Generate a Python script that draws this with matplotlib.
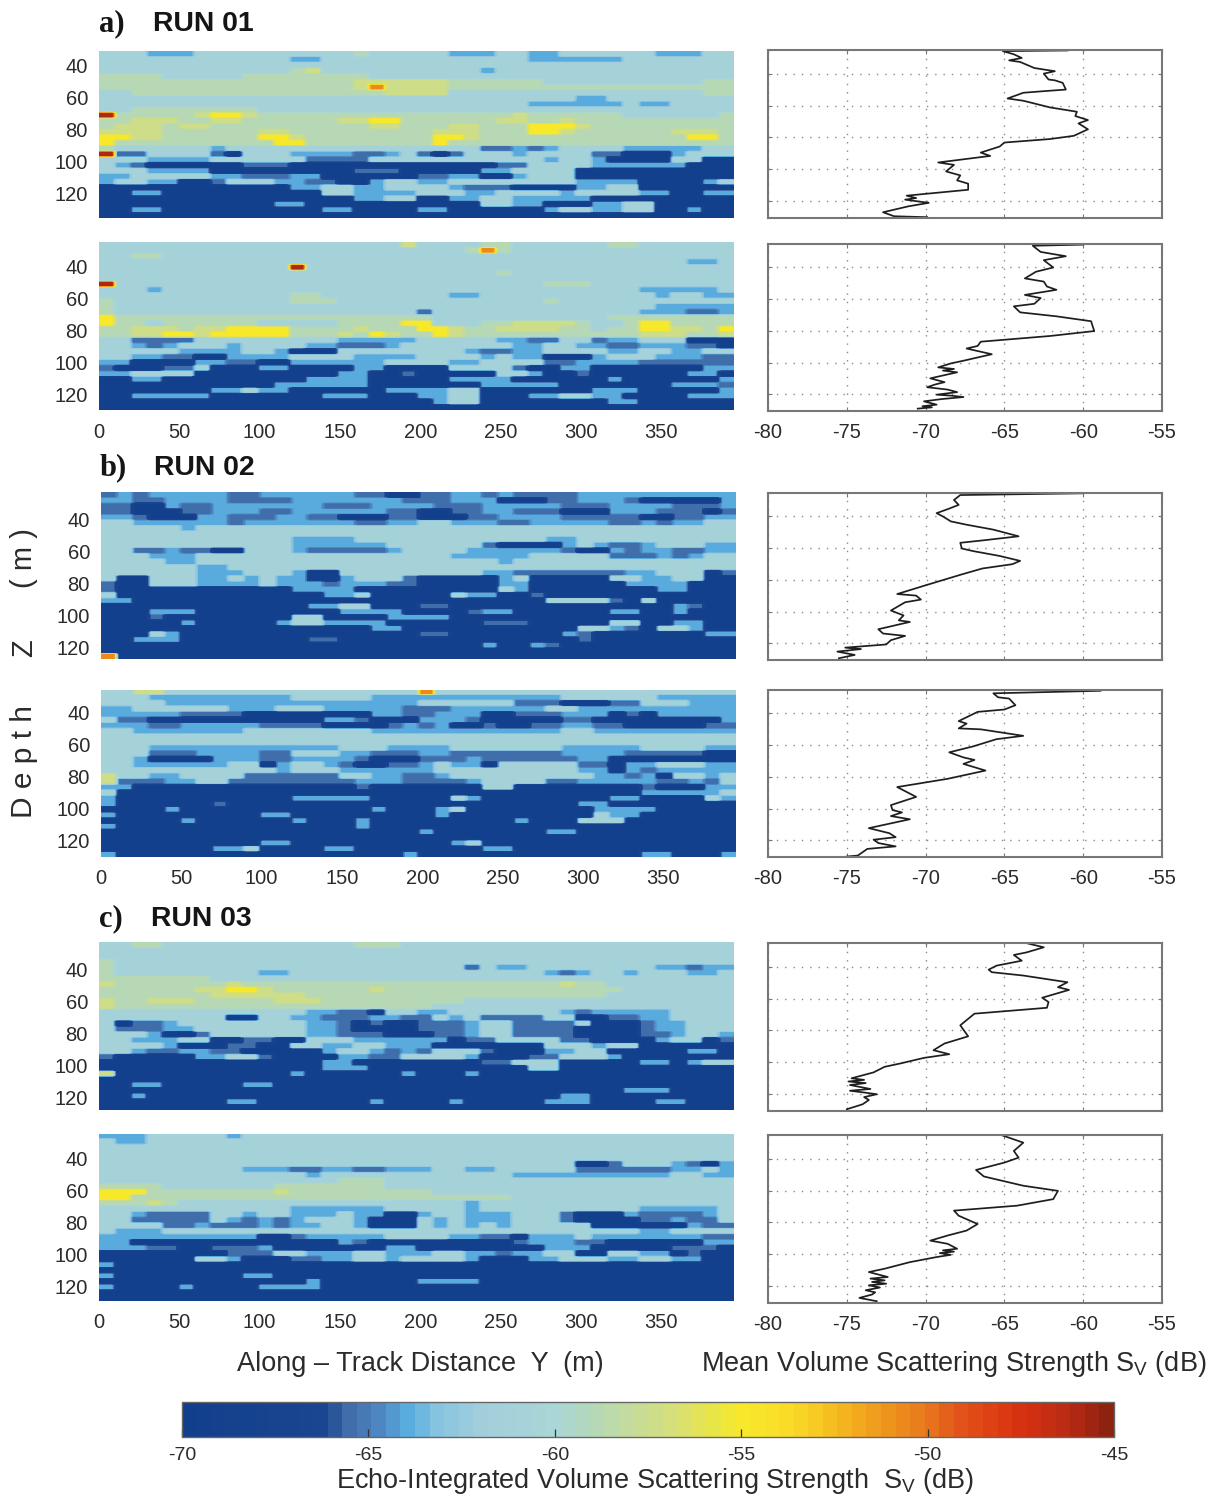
import numpy as np
import matplotlib
matplotlib.use("Agg")
import matplotlib.pyplot as plt
from matplotlib.colors import LinearSegmentedColormap, Normalize
from matplotlib.cm import ScalarMappable

plt.rcParams['font.family'] = ['Liberation Sans', 'DejaVu Sans']
plt.rcParams['mathtext.default'] = 'regular'
plt.rcParams['axes.unicode_minus'] = False

W, H = 1212, 1496

# Sv value (dB) for each level character used in the echogram rows
LEVELS = {'0': -69.0, '1': -65.6, '2': -64.0, '3': -61.3, '4': -59.0,
          '5': -57.3, '6': -55.0, '7': -50.5, '8': -46.0}

A1 = """3332223333 3333334333 3322233223 3333322233
3333333333 3322333333 3333333222 2223333333
3333333333 3333333333 3333333333 3333333333
3333333333 3345333333 3333233333 3333333333
4444333334 4444444333 3333333333 3333333333
4444444444 4444445555 5544444433 3333333344
4444444444 4444445755 5544444444 4444444444
3344444444 4444444455 5533333333 3333333344
3333333333 3333333333 3333333333 2233333333
3333333333 3333333333 3333333222 2223223333
3344444444 3333333333 3333333333 3333333333
8444445665 4444444444 4444445444 4443333334
4455544554 4444455664 4444455445 4444444444
4555455444 4444444554 4455444666 5444444444
5555444444 5544444444 4555444665 4444445554
6655444444 6654444444 4665444444 4444444664
6444444444 4664444444 4644444444 4444444444
4333333233 3333333333 3333112123 3332222233
8113333103 3322221123 1013332333 3110002333
3332222333 3331111333 3333333323 3200003300
3210000001 1100000000 0000011333 3222222000
3332222000 0000001110 0000223333 0000000000
2233333221 1122000000 1122002333 0000000000
2332200133 3221100233 2233333333 2222000023
0000000000 0022332233 3321110000 2233000000
0022000000 0000332222 3332233332 3333220022
0000000000 0000002233 0022332222 2000000000
0000000000 0220000000 0000332200 0223300000
0022000000 0000220000 2200000023 3223300200
0000000000 0000000000 0000000000 0000000000"""

A2 = """3333333333 3333333335 3333443333 3344333333
3333333333 3333333333 3334743333 3333333333
3344333333 3333333333 3333333333 3333333333
3333333333 3333333333 3333333333 3333333223
3333333333 3383333333 3333333333 3333333333
3333333333 3333333333 3333343333 3333333333
3333333333 3333333333 3333333333 3333333333
8333333333 3333333333 3333333344 4333333333
3332333333 3333333333 3333333333 3333222223
3333333333 3344333333 3322333333 3333323322
4333333333 3344433333 3333333343 3333333333
4333333333 3333333333 3333333333 3333322222
4333333333 3333333333 1333333333 3333222112
6444444444 4444444444 4333333333 3344444444
6443444444 3333344446 6333445555 4334664444
4455545566 6644445444 6654455554 4344665546
4455665666 6644454654 4654444444 4444555445
3311113333 3333322222 3333322113 3122333000
3321233323 3332211123 3333332233 2211222110
3333322223 3200033333 3332112233 3322332233
3322110022 2233332222 3333232200 0233322211
2200002211 0022222233 3322333311 2222111111
1000113000 2200002200 0033331002 2000000022
2233330000 0000022001 0000033200 1000000220
0022000000 0002222000 0022220000 0020000002
0000000000 0222222000 0000222220 0000002221
0000000223 2200000022 2233000000 0222000002
0022222000 0000222000 2233000223 3220000222
0000000000 0000000000 0233000000 0022000000
0000000000 0000000000 0000000000 0000000000"""

B1 = """1212222211 2222221100 1122121111 2222222222
2211222211 1122222221 1122200011 2221000002
1100211222 2222111222 2111222221 1122221112
1100011222 1122222211 0011221110 0022211101
2210002211 1221100011 0001122221 1111001122
3322222212 2222221122 3322211222 2211212233
3333323333 3333333333 3333333333 3333333333
3333333333 3333333333 3333333333 3333333333
3333333333 3322223333 3333333322 3333333333
3333333333 3322222233 3333100002 3211233322
3311211003 3321111123 3332222221 0021221122
3332223333 3333333333 3322222333 3311121233
3333223333 3333333333 3333323333 3333333333
3333332233 3333333333 3333333333 3333333333
3333332223 3320033333 3333221111 1112233301
3003332232 3220023331 0000023000 0033223300
1003332222 3222122211 0000022000 0002222000
1000000000 0022220000 0000032000 0000022000
3000000000 0000223000 0032200100 0000000000
2200000000 0000000000 0000000033 3310300000
0000000000 0002233000 1100000000 0000002100
0002220000 0000022220 0001220000 0022002000
0001000000 0033000022 2200000000 0000000000
0000020000 0233222200 0000111000 0033002200
0000000000 0000000220 0000000000 3321033200
0003200000 0000000000 1100000002 1000000022
0022200000 0001100000 0000000000 1000000000
0000000000 0000000000 0000200210 0000000000
0000000000 0000000000 0000000000 0000000000
7000000000 0000000000 0000000000 0000000000"""

B2 = """3355333333 3333333333 7333333333 3333333333
3332222222 2233333222 2222222223 3333322222
3333222222 2222222222 3333331110 0011333222
2233333322 2333222221 1122222233 2222222222
2222211110 0000000221 1222001112 2201022222
3110000000 0000221000 2221000001 1000000002
2221122222 1111000012 1200100112 2110000011
3322222223 3333333222 2222222223 3222222222
3333333333 3333333333 3333333333 3333333333
3333333333 3333333333 3333333333 3333333333
3332222222 2222233322 2233333332 2222333322
3331112222 1133322111 2211111112 2221111100
3320000222 1122221000 1112111111 2200000000
3322222233 0233210011 2322033333 1102233322
3333333333 3233322222 2333333333 2202122222
5332233331 1111133221 1233333333 3221203323
5111223311 1111112221 1112333311 2222211213
2200000000 0000001000 0000330000 0000100022
3000000000 0000000000 0000000000 0000222223
2000000000 0022222000 0032000000 0022000032
2000000100 0000000000 0000000000 2200000000
0000200000 0000000200 0230000000 0222200000
2000000000 2200000000 0200000000 0322000000
0000020000 0020002000 0000002000 3330000000
2000000000 0000002000 0000000000 0000000000
0000000000 0000000000 2000000022 0000000000
0000000000 0000000000 0000000000 0000000000
0000000000 2200000000 0023000000 0000000000
0000000223 0000220000 0000220000 0000000000
2000000000 0000000002 0000000000 0000220002"""

C1 = """3344333333 3333334443 3333333333 3333333333
3333333333 3333333333 3333333333 3333333333
3333333333 3333333333 3333333333 3333333333
4333333333 3333333333 3333333333 3333333333
4333333333 3333333333 3331322333 3333322122
4333333333 2233333333 3333333321 2332333223
4444444333 3333333333 3333333333 3333333333
5444444454 4444444444 4444444445 4433333333
4444445566 5444444544 4444444444 4443333333
4444444555 5554444444 4444444444 4433333333
5445554444 4555444444 4443333333 3333333333
5444444444 4444444444 4333333333 3333333333
3333333333 3332211033 2233333332 1222223333
3333333300 3322111221 1323111133 0011223333
3011233333 3332210100 1112331111 3000122333
3111223333 3332210000 1112331111 0000122333
3332001333 3332211100 0112331111 0000112332
3322233001 1003332222 2201133331 1000023301
3333200011 0033223322 2000000033 3233000000
3321122110 0000233212 1333100022 3300000220
1000002233 1000022113 3332000113 3320000000
0000000000 0000220000 0000113330 0000220233
0000000000 0000222000 0000000330 0000000000
5000000000 0020000002 0002000000 0000000000
0000000000 0000000000 0000000000 0000000000
0022000002 2000000000 0000000000 0000000000
0000000000 0000000000 0000000000 0002220000
0020000000 0000000000 0000000002 2000000000
0000000022 0000000200 0020000022 2000022000
0000000000 0000000000 0000000000 0000000000"""

C2 = """2223333323 3333333333 3333333333 3333333333
3223333333 3333333333 3333333333 3333333333
3333333333 3333333333 3333333333 3333333333
3333333333 3333333333 3333333333 3333333333
3333333333 3333333333 3333333333 3333333333
3333333333 3333333333 3333333333 0013332102
3333333332 2211221122 2332233333 1111112232
3333333333 3332333333 3333332222 2222223322
3333333333 3333344433 3333333333 3333333333
4444333333 3444444433 3333333333 3333333333
6664444444 4544444444 4333333333 3333333333
6644444444 4444444444 4444443333 3333333333
4445433333 3333333333 3332333333 3333333333
3333333333 3322222233 3332333333 3333222223
3321111332 3322232200 2332223331 0002111123
3311111321 2123332000 3232223331 0000112113
3333112111 2122332000 3232323333 3000000211
3222333333 3333333333 3333333333 3333223333
2222222222 0012222233 3322110222 3222222211
2200000000 0000021000 0000001222 1100000022
2221100111 2000000022 0000000022 2000001110
0000000011 1332223322 2332212233 0033220100
0000003320 0011223323 3332000223 3322332200
2000000000 0000000000 0000000000 0000000000
0000000000 0000000000 0000000000 0000000000
2000000002 2000000000 0000000000 0000000000
0000000000 0002000000 2222000000 0000000000
2000020000 2222000000 0000000000 0000000000
0000000000 0000000000 0000000000 0000000000
0000000000 0000000000 0000000000 0000000000"""

# Mean profiles: Sv (dB) and depth (m)
A1_SV = [-61.0,-65.1,-64.4,-63.9,-64.7,-64.0,-63.1,-61.8,-62.5,-62.2,-61.8,-61.3,-61.1,-62.5,-63.8,-64.8,-63.8,-62.1,-60.4,-60.5,-59.7,-60.3,-59.7,-60.6,-62.1,-65.0,-65.3,-66.5,-65.9,-69.2,-68.2,-68.7,-67.8,-68.0,-67.3,-67.3,-71.2,-70.6,-71.3,-69.8,-71.1,-72.7,-72.0,-69.9]
A1_Z = [25.5,25.9,27.9,30.2,31.7,32.7,36.5,38.5,40,43.7,44.2,45.8,50,51,52,55.6,57,61.2,63.9,66.6,69.1,71.2,74.9,79,81,83.2,85.7,89.5,91.6,95.7,97.2,101.3,103.8,106.9,109,112.8,116.5,118,119,121,123.2,126.9,129.4,130]
A2_SV = [-60,-63.2,-62.7,-61.1,-62.5,-61.9,-63,-63.7,-62.5,-62.3,-61.7,-63.7,-62.7,-63.1,-64.4,-64,-61.7,-59.5,-59.3,-62.1,-66.5,-66.7,-67.4,-65.8,-67.6,-68.4,-69.2,-68.2,-68.9,-68,-69.7,-68.8,-69.4,-69.9,-68.6,-68,-69.3,-68.4,-67.6,-69,-70.1,-69.3,-70.2,-69.6,-70.5]
A2_Z = [25.6,26.3,30.2,32.9,35.4,40,42.7,46.9,48.9,52,54.1,57.3,59.3,62.9,64.5,68.3,70.8,73.9,80.1,83.2,86.8,89.5,91.1,94.7,98.8,100.5,103,104,105,106.1,109.9,112.3,113.8,115.5,117,118.6,120.2,120.8,121.7,123,124.4,126.5,127.5,128.2,129]
B1_SV = [-60,-67.8,-68.2,-67.9,-68.6,-69.3,-68.9,-68.4,-67.4,-65.7,-64.1,-66.3,-67.8,-67.7,-67,-65.3,-64,-64.5,-66.4,-67.8,-70.1,-71.8,-70.6,-70.3,-71.3,-72.2,-71.4,-71.7,-71,-73,-72.7,-71.3,-72.2,-72.5,-75.1,-74.1,-75.6,-74.5,-75.5]
B1_Z = [25.4,26.5,29.6,32.7,35.4,37.9,40,43.1,45.2,48.3,52.5,55,56.6,60.2,61.8,64.9,68,70.1,72.8,76.8,83.7,88.9,89.9,92.4,94.1,99.3,102.4,105.5,106.5,111.1,113.8,115.3,118,120.7,122.7,123.6,125.2,127.3,129.4]
B2_SV = [-58.9,-65.7,-65.4,-64.7,-64.3,-65,-66.7,-67.9,-67.4,-67.9,-66.5,-63.8,-65.5,-67,-68.5,-67.6,-66.9,-67.6,-66.2,-68.6,-71.8,-71.2,-70.6,-72.2,-72.1,-71.5,-72.2,-71,-73.6,-72.3,-71.9,-73.3,-73,-71.9,-73.7,-74.3,-75]
B2_Z = [25.7,27.3,29.8,30.6,34.8,37.5,39,44.8,46.4,49.4,50,54.1,56.2,60.8,64.5,67.7,69.3,71.8,76,81.2,86.4,89.5,92.6,97.8,100.9,102.4,104.7,106.7,112.3,115.5,118,119.6,121.7,123.8,125.4,129.6,130.2]
C1_SV = [-63.8,-62.5,-63.6,-64.4,-63.9,-65.5,-66,-65.8,-63.8,-61,-61.6,-60.9,-62.6,-62.2,-62.3,-66.9,-67.8,-67.3,-68.8,-69.5,-68.5,-70.1,-71.6,-72.6,-73.3,-74.7,-73.9,-74.9,-73.8,-74.8,-73.5,-74.8,-73.9,-73.1,-73.9,-73.6,-74,-75]
C1_Z = [24.8,27.9,31.1,32.7,36.3,39.4,41.9,43.5,45.6,49.8,52.9,54.6,59.5,62.2,65.8,69.5,76.8,83.7,88.2,92.4,94.9,97.2,100.7,102.8,106.3,110,111,112,113,114.2,116.7,117.8,118.9,120,121.8,123.6,126.3,129.4]
C2_SV = [-65.2,-63.8,-64.4,-64.1,-65,-66.8,-66.3,-63.8,-61.6,-61.9,-64.2,-68.2,-67.9,-66.7,-67.4,-68.6,-69.7,-68.6,-68,-68.9,-68.2,-69.1,-68.4,-69.3,-71,-72.6,-73.6,-72.4,-73.5,-72.6,-73.4,-72.5,-73.6,-72.9,-73.8,-73.2,-73.4,-74.2,-73.1]
C2_Z = [25.2,30,35.2,39.4,42.5,47.1,51.2,57,60.2,65.4,69.5,72.6,75.8,81,85.1,88.2,91.4,93.4,96.5,97.5,98.3,99.2,100.3,101.7,104.9,109,111.1,114.2,115.2,116.3,117.3,118.4,119.4,120.8,122.5,123.8,125.2,127.3,129.4]

X_TICKS = [0, 50, 100, 150, 200, 250, 300, 350]
Z_TICKS = [40, 60, 80, 100, 120]
SV_TICKS = [-80, -75, -70, -65, -60, -55]
CB_TICKS = [-70, -65, -60, -55, -50, -45]
TITLES = [("a)", "RUN 01", 99, 153, 24), ("b)", "RUN 02", 100, 154, 468), ("c)", "RUN 03", 99, 151, 919)]

cmap = LinearSegmentedColormap.from_list("sv", [
    (0.00, '#123f8c'), (0.15, '#1a4590'), (0.17, '#3f6ba8'), (0.20, '#4a7fbd'),
    (0.24, '#5aaee0'), (0.27, '#86c3e0'), (0.32, '#a3cfdc'), (0.40, '#a9d6d6'),
    (0.44, '#b5d8b8'), (0.52, '#d3de80'), (0.58, '#ece63e'), (0.60, '#f8e92b'),
    (0.66, '#f9d928'), (0.72, '#f3b01e'), (0.80, '#e87a1c'), (0.84, '#e2531a'),
    (0.90, '#d9330f'), (0.96, '#b82a14'), (1.00, '#8e2210')], N=64)
norm = Normalize(-70, -45)

fig = plt.figure(figsize=(W / 100, H / 100), dpi=100)
TXT = '#2b2b2b'


def axbox(x0, y0, x1, y1):
    return fig.add_axes([x0 / W, 1 - y1 / H, (x1 - x0) / W, (y1 - y0) / H])


def ftext(x, y, s, **kw):
    kw.setdefault('color', TXT)
    fig.text(x / W, 1 - y / H, s, **kw)


def decode(block):
    grid = np.array([[LEVELS[c] for c in line.replace(' ', '')] for line in block.splitlines()])
    return np.repeat(np.repeat(grid, 3, axis=0), 3, axis=1)


def echogram(block, box, ztop, zbot, xlabels):
    ax = axbox(*box)
    ax.imshow(decode(block), cmap=cmap, norm=norm, aspect='auto',
              extent=(0, 395.4, zbot, ztop), interpolation='bilinear',
              interpolation_stage='data')
    ax.set_xticks(X_TICKS)
    ax.set_yticks(Z_TICKS)
    ax.set_xlim(0, 395.4)
    ax.set_ylim(zbot, ztop)
    ax.tick_params(length=0, labelsize=14.5, labelcolor=TXT, pad=8)
    ax.tick_params(axis='x', pad=9)
    if not xlabels:
        ax.set_xticklabels([])
    for s in ax.spines.values():
        s.set_visible(False)


def profile(sv, z, box, xlabels):
    ax = axbox(*box)
    ax.plot(sv, z, color='#1e1e1e', lw=1.25)
    ax.set_xlim(-80, -55)
    ax.set_ylim(130.5, 25.2)
    ax.set_xticks(SV_TICKS)
    ax.set_yticks(Z_TICKS)
    ax.grid(True, color='#8a8a8a', ls=(0, (1, 5)), lw=1.0)
    ax.tick_params(direction='in', length=3, width=0.8, color='#777777',
                   top=True, right=True, labelleft=False, labelsize=14.5,
                   labelcolor=TXT, pad=9)
    if not xlabels:
        ax.set_xticklabels([])
    for s in ax.spines.values():
        s.set_color('#777777')
        s.set_linewidth(1.5)


echogram(A1, (99, 51, 734, 218), 31.2, 135.6, False)
echogram(A2, (99, 242, 734, 410), 24.4, 129.4, True)
echogram(B1, (101, 492, 736, 659), 23.0, 127.5, False)
echogram(B2, (101, 690, 736, 857), 26.0, 130.6, True)
echogram(C1, (99, 942, 734, 1110), 23.0, 128.0, False)
echogram(C2, (99, 1134, 734, 1301), 25.0, 129.0, True)

profile(A1_SV, A1_Z, (768, 50, 1162, 218), False)
profile(A2_SV, A2_Z, (768, 244, 1162, 411), True)
profile(B1_SV, B1_Z, (768, 493, 1162, 660), False)
profile(B2_SV, B2_Z, (768, 690, 1162, 857), True)
profile(C1_SV, C1_Z, (768, 943, 1162, 1111), False)
profile(C2_SV, C2_Z, (768, 1135, 1162, 1303), True)

for tag, run, xt, xr, y in TITLES:
    ftext(xt, y, tag, family=['Liberation Serif', 'DejaVu Serif'], weight='bold',
          fontsize=22, va='center', ha='left', color='#151515')
    ftext(xr, y, run, weight='bold', fontsize=20.4, va='center', ha='left', color='#151515')

ftext(24, 648, "Z", fontsize=21, rotation=90, ha='center', va='center')
ftext(24, 558, "( m )", fontsize=21, rotation=90, ha='center', va='center')
ftext(24, 762, "D e p t h", fontsize=21.5, rotation=90, ha='center', va='center')

ftext(420, 1364, "Along \u2013 Track Distance  Y  (m)", fontsize=19.5, ha='center', va='center')
ftext(1207, 1364, "Mean Volume Scattering Strength S$_{V}$ (dB)", fontsize=19.5, ha='right', va='center')

cax = axbox(182, 1402, 1114, 1437)
cb = fig.colorbar(ScalarMappable(norm=norm, cmap=cmap), cax=cax, orientation='horizontal')
cb.set_ticks(CB_TICKS)
cb.ax.tick_params(direction='in', length=6, width=0.9, color='#333333',
                  labelsize=14, labelcolor=TXT, pad=7)
cb.outline.set_edgecolor('#666666')
cb.outline.set_linewidth(1.0)
ftext(655, 1481, "Echo-Integrated Volume Scattering Strength  S$_{V}$ (dB)",
      fontsize=19.5, ha='center', va='center')

fig.savefig("out.png", dpi=100)
